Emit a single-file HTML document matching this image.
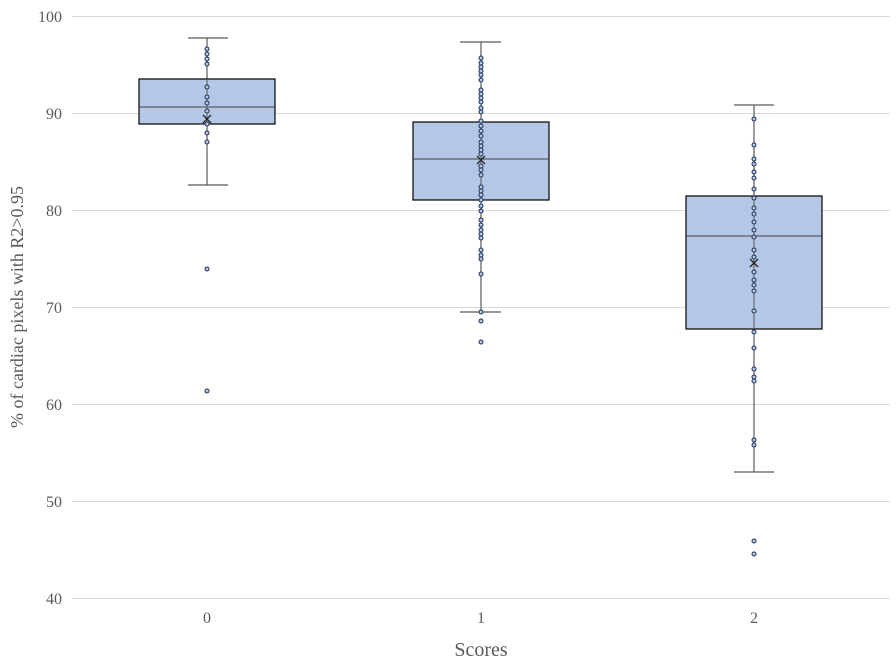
<!DOCTYPE html><html><head><style>body{margin:0;background:#fff}</style></head><body>
<svg width="896" height="664" xmlns="http://www.w3.org/2000/svg" font-family="Liberation Serif, serif">
<g stroke="#d9d9d9" stroke-width="1">
<line x1="72" x2="890" y1="16.5" y2="16.5"/><line x1="72" x2="890" y1="113.5" y2="113.5"/><line x1="72" x2="890" y1="210.5" y2="210.5"/><line x1="72" x2="890" y1="307.5" y2="307.5"/><line x1="72" x2="890" y1="404.5" y2="404.5"/><line x1="72" x2="890" y1="501.5" y2="501.5"/><line x1="72" x2="890" y1="598.5" y2="598.5"/>
</g>
<g font-size="16" fill="#595959" text-anchor="end">
<text x="62" y="22">100</text><text x="62" y="119">90</text><text x="62" y="216">80</text><text x="62" y="313">70</text><text x="62" y="410">60</text><text x="62" y="507">50</text><text x="62" y="604">40</text>
</g>
<g font-size="16" fill="#595959" text-anchor="middle">
<text x="207" y="623">0</text><text x="481" y="623">1</text><text x="754" y="623">2</text>
</g>
<text x="481" y="656" font-size="20" fill="#595959" text-anchor="middle">Scores</text>
<text transform="translate(23,307) rotate(-90)" font-size="18" fill="#595959" text-anchor="middle">% of cardiac pixels with R2&gt;0.95</text>
<g stroke="#595959" stroke-width="1.2" fill="none">
<line x1="207" x2="207" y1="38" y2="185"/><line x1="188" x2="228" y1="38" y2="38"/><line x1="188" x2="228" y1="185" y2="185"/>
<line x1="481" x2="481" y1="42" y2="312"/><line x1="460" x2="501" y1="42" y2="42"/><line x1="460" x2="501" y1="312" y2="312"/>
<line x1="754" x2="754" y1="105" y2="472"/><line x1="734" x2="774" y1="105" y2="105"/><line x1="734" x2="774" y1="472" y2="472"/>
</g>
<g fill="#b4c7e7" stroke="#000" stroke-width="1.2">
<rect x="139" y="79" width="136" height="45"/><rect x="413" y="122" width="136" height="78"/><rect x="686" y="196" width="136" height="133"/>
</g>
<g stroke="#404040" stroke-width="1">
<line x1="139" x2="275" y1="107" y2="107"/><line x1="413" x2="549" y1="159" y2="159"/><line x1="686" x2="822" y1="236" y2="236"/>
</g>
<g stroke="#595959" stroke-width="1"><line x1="207" x2="207" y1="79" y2="124"/><line x1="481" x2="481" y1="122" y2="200"/><line x1="754" x2="754" y1="196" y2="329"/></g>
<g stroke="#222" stroke-width="1.3">
<path d="M203 115l8 8M211 115l-8 8"/><path d="M477 156l8 8M485 156l-8 8"/><path d="M750 259l8 8M758 259l-8 8"/>
</g>
<g fill="#b4c7e7" stroke="#1f2f4f" stroke-width="1">
<circle cx="207" cy="49" r="2"/><circle cx="207" cy="54" r="2"/><circle cx="207" cy="59" r="2"/><circle cx="207" cy="64" r="2"/><circle cx="207" cy="87" r="2"/><circle cx="207" cy="97" r="2"/><circle cx="207" cy="103" r="2"/><circle cx="207" cy="111" r="2"/><circle cx="207" cy="124" r="2"/><circle cx="207" cy="133" r="2"/><circle cx="207" cy="142" r="2"/><circle cx="207" cy="269" r="2"/><circle cx="207" cy="391" r="2"/>
<circle cx="481" cy="58" r="2"/><circle cx="481" cy="63" r="2"/><circle cx="481" cy="67" r="2"/><circle cx="481" cy="71" r="2"/><circle cx="481" cy="75" r="2"/><circle cx="481" cy="80" r="2"/><circle cx="481" cy="90" r="2"/><circle cx="481" cy="94" r="2"/><circle cx="481" cy="98" r="2"/><circle cx="481" cy="102" r="2"/><circle cx="481" cy="108" r="2"/><circle cx="481" cy="112" r="2"/><circle cx="481" cy="121" r="2"/><circle cx="481" cy="126" r="2"/><circle cx="481" cy="131" r="2"/><circle cx="481" cy="136" r="2"/><circle cx="481" cy="142" r="2"/><circle cx="481" cy="146" r="2"/><circle cx="481" cy="150" r="2"/><circle cx="481" cy="154" r="2"/><circle cx="481" cy="166" r="2"/><circle cx="481" cy="170" r="2"/><circle cx="481" cy="175" r="2"/><circle cx="481" cy="187" r="2"/><circle cx="481" cy="191" r="2"/><circle cx="481" cy="195" r="2"/><circle cx="481" cy="200" r="2"/><circle cx="481" cy="206" r="2"/><circle cx="481" cy="211" r="2"/><circle cx="481" cy="220" r="2"/><circle cx="481" cy="225" r="2"/><circle cx="481" cy="230" r="2"/><circle cx="481" cy="234" r="2"/><circle cx="481" cy="238" r="2"/><circle cx="481" cy="250" r="2"/><circle cx="481" cy="255" r="2"/><circle cx="481" cy="259" r="2"/><circle cx="481" cy="274" r="2"/><circle cx="481" cy="312" r="2"/><circle cx="481" cy="321" r="2"/><circle cx="481" cy="342" r="2"/>
<circle cx="754" cy="119" r="2"/><circle cx="754" cy="145" r="2"/><circle cx="754" cy="159" r="2"/><circle cx="754" cy="164" r="2"/><circle cx="754" cy="172" r="2"/><circle cx="754" cy="178" r="2"/><circle cx="754" cy="189" r="2"/><circle cx="754" cy="198" r="2"/><circle cx="754" cy="208" r="2"/><circle cx="754" cy="214" r="2"/><circle cx="754" cy="222" r="2"/><circle cx="754" cy="230" r="2"/><circle cx="754" cy="237" r="2"/><circle cx="754" cy="250" r="2"/><circle cx="754" cy="257" r="2"/><circle cx="754" cy="272" r="2"/><circle cx="754" cy="280" r="2"/><circle cx="754" cy="285" r="2"/><circle cx="754" cy="291" r="2"/><circle cx="754" cy="311" r="2"/><circle cx="754" cy="332" r="2"/><circle cx="754" cy="348" r="2"/><circle cx="754" cy="369" r="2"/><circle cx="754" cy="377" r="2"/><circle cx="754" cy="381" r="2"/><circle cx="754" cy="440" r="2"/><circle cx="754" cy="445" r="2"/><circle cx="754" cy="541" r="2"/><circle cx="754" cy="554" r="2"/>
</g>
</svg></body></html>
